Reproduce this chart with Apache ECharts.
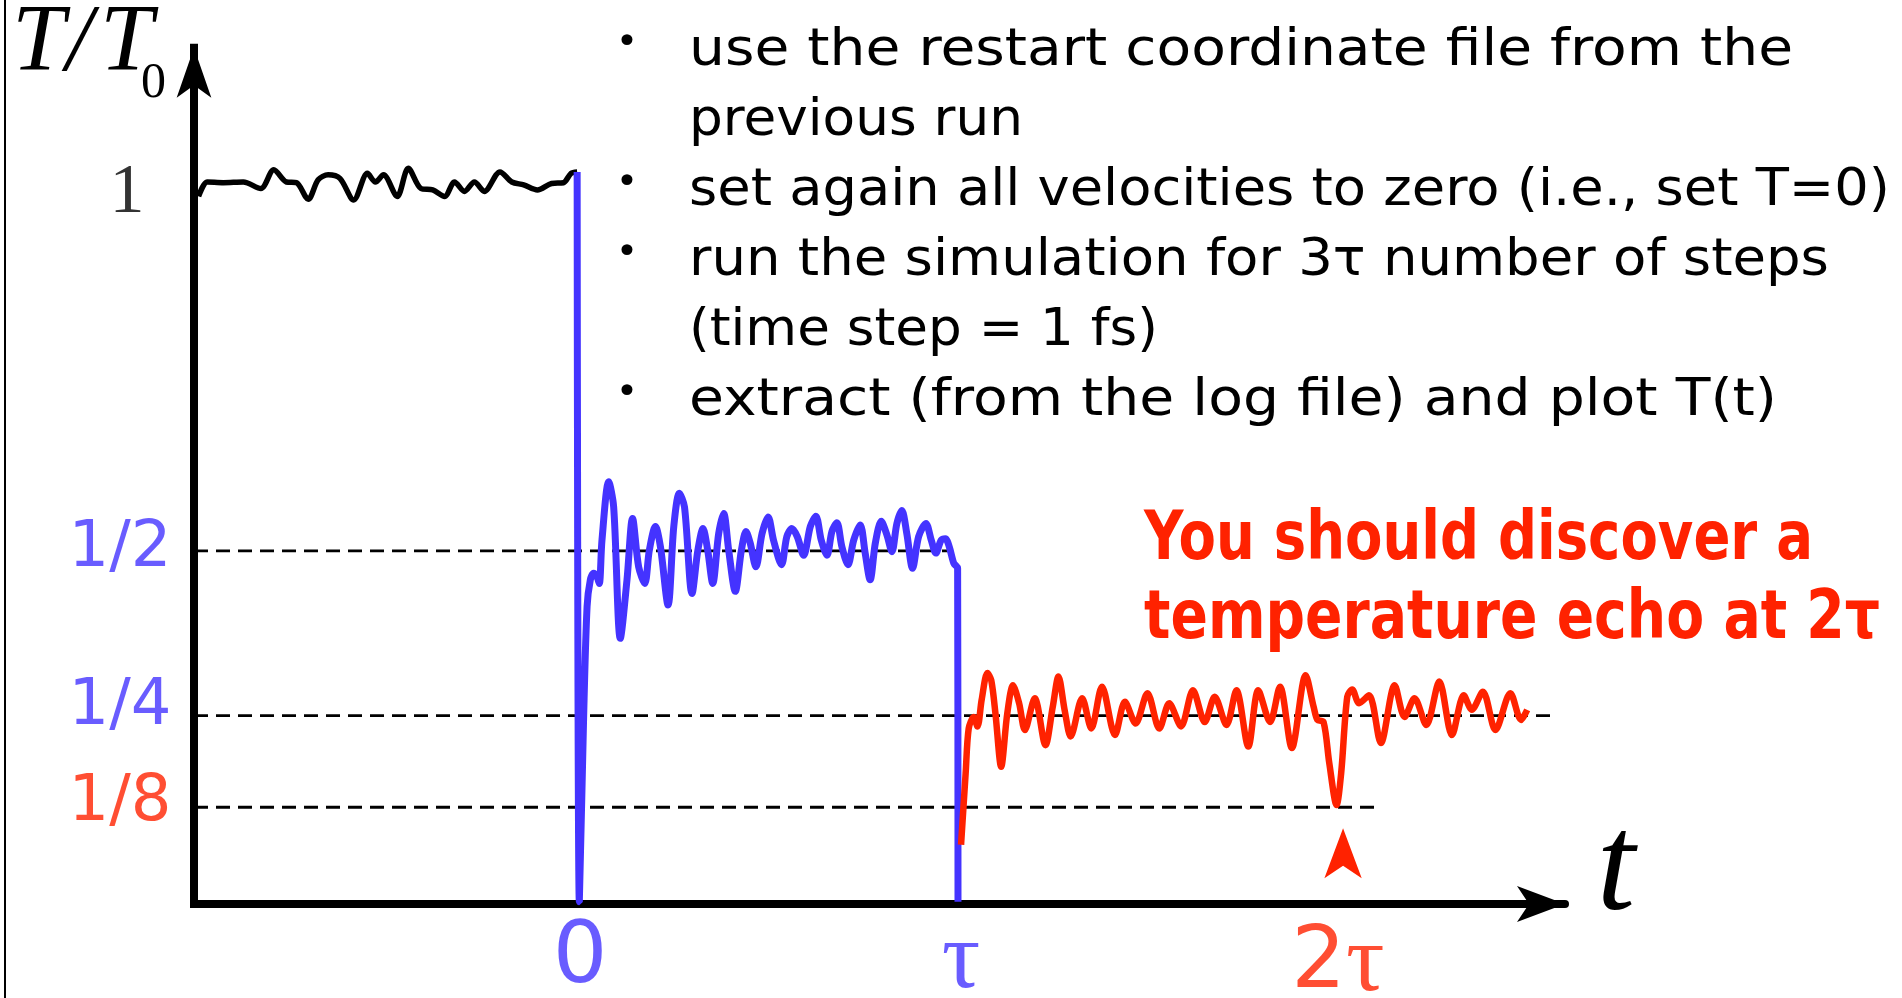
<!DOCTYPE html>
<html><head><meta charset="utf-8">
<script src="https://cdn.jsdelivr.net/npm/echarts@6/dist/echarts.min.js"></script>
<style>html,body{margin:0;padding:0;background:#fff;}#c{width:1902px;height:998px;}</style>
</head><body><div id="c"></div>
<script>
// ---------- data (t in units of tau, T/T0) ----------
const blackRun = [[-0.988,0.980],[-0.965,1.000],[-0.923,0.999],[-0.871,1.000],[-0.825,0.991],[-0.791,1.017],[-0.758,1.000],[-0.732,0.999],[-0.701,0.976],[-0.675,1.003],[-0.649,1.010],[-0.618,1.005],[-0.582,0.975],[-0.546,1.012],[-0.525,1.000],[-0.504,1.010],[-0.468,0.980],[-0.439,1.019],[-0.406,0.991],[-0.375,0.989],[-0.344,0.980],[-0.318,1.000],[-0.292,0.987],[-0.266,1.000],[-0.240,0.987],[-0.199,1.014],[-0.168,1.000],[-0.137,0.996],[-0.101,0.989],[-0.064,0.998],[-0.033,0.999],[-0.013,1.012],[0.003,1.014]];
const blueRun = [[0.003,1.014],[0.0087,0.003],[0.020,0.259],[0.029,0.412],[0.0375,0.449],[0.046,0.458],[0.055,0.453],[0.061,0.444],[0.068,0.504],[0.0855,0.585],[0.0986,0.550],[0.116,0.368],[0.1335,0.449],[0.148,0.534],[0.164,0.467],[0.180,0.444],[0.192,0.490],[0.208,0.523],[0.221,0.495],[0.241,0.414],[0.256,0.523],[0.2705,0.569],[0.284,0.550],[0.3037,0.430],[0.319,0.490],[0.3325,0.520],[0.3447,0.490],[0.358,0.444],[0.3735,0.513],[0.3866,0.541],[0.3997,0.490],[0.417,0.433],[0.433,0.490],[0.445,0.516],[0.456,0.500],[0.471,0.467],[0.487,0.513],[0.503,0.536],[0.517,0.504],[0.538,0.470],[0.552,0.509],[0.565,0.520],[0.579,0.509],[0.596,0.483],[0.6135,0.523],[0.628,0.537],[0.642,0.504],[0.657,0.483],[0.670,0.516],[0.683,0.528],[0.696,0.495],[0.712,0.470],[0.727,0.504],[0.744,0.525],[0.757,0.486],[0.770,0.449],[0.7836,0.500],[0.799,0.530],[0.814,0.511],[0.827,0.488],[0.840,0.527],[0.853,0.545],[0.866,0.513],[0.881,0.465],[0.897,0.509],[0.916,0.527],[0.930,0.504],[0.942,0.486],[0.956,0.504],[0.967,0.506],[0.977,0.495],[0.989,0.472],[0.999,0.465],[1.0,0.003]];
const redRun = [[1.008,0.082],[1.020,0.181],[1.028,0.243],[1.041,0.259],[1.051,0.246],[1.062,0.283],[1.077,0.320],[1.087,0.310],[1.098,0.264],[1.113,0.190],[1.129,0.264],[1.144,0.303],[1.160,0.278],[1.175,0.241],[1.201,0.285],[1.229,0.220],[1.248,0.273],[1.263,0.315],[1.279,0.269],[1.295,0.232],[1.325,0.285],[1.349,0.243],[1.377,0.301],[1.411,0.234],[1.437,0.280],[1.465,0.250],[1.496,0.292],[1.527,0.243],[1.553,0.278],[1.584,0.246],[1.615,0.296],[1.646,0.252],[1.672,0.287],[1.703,0.248],[1.729,0.296],[1.760,0.218],[1.786,0.296],[1.817,0.252],[1.843,0.301],[1.874,0.216],[1.910,0.317],[1.931,0.273],[1.941,0.255],[1.957,0.252],[1.972,0.195],[1.991,0.137],[2.003,0.181],[2.019,0.287],[2.032,0.297],[2.050,0.278],[2.076,0.289],[2.107,0.223],[2.143,0.303],[2.169,0.259],[2.195,0.285],[2.226,0.248],[2.260,0.308],[2.293,0.234],[2.324,0.289],[2.345,0.269],[2.374,0.294],[2.407,0.241],[2.446,0.292],[2.474,0.255],[2.490,0.269]];
const guideLevels = [0.489, 0.261, 0.134];
const guideEnds = [0.974, 2.565, 2.10];
const yTickValues = [1, 0.489, 0.261, 0.134];
const yTickLabels = ['1', '1/2', '1/4', '1/8'];
const xTickValues = [0, 1, 2];
const xTickLabels = ['0', 'τ', '2τ'];
const echoMarker = [2.008, 0.105];
const bulletLines = ['use the restart coordinate file from the', 'previous run', 'set again all velocities to zero (i.e., set T=0)', 'run the simulation for 3τ number of steps', '(time step = 1 fs)', 'extract (from the log file) and plot T(t)'];
const bulletFlags = [true, false, true, true, false, true];
const noteLines = ['You should discover a', 'temperature echo at 2τ'];

// ---------- layout / style ----------
const BLUE = '#4433ff', RED = '#ff2200';
const X_MIN = -1, X_MAX = 2.589, Y_MIN = 0, Y_MAX = 1.186;
const bulletWidths = [1104, 334, 1201, 1140, 469, 1088];
const noteWidths = [669, 736];
const yLabelStyle = [
  {color:'#000', fontFamily:'Liberation Serif', fontSize:70, offset:[-67, 12]},
  {color:BLUE, fontFamily:'DejaVu Sans', fontSize:64, offset:[-74, -2]},
  {color:BLUE, fontFamily:'DejaVu Sans', fontSize:64, offset:[-74, -8]},
  {color:RED, fontFamily:'DejaVu Sans', fontSize:64, offset:[-74, -4]}
];
const xLabelStyle = [
  {fmt:'{d|0}', color:BLUE, offset:[4, 56]},
  {fmt:'{g|τ}', color:BLUE, offset:[3, 58]},
  {fmt:'{d|2}{g|τ}', color:RED, offset:[-2, 61]}
];

const ctx = document.createElement('canvas').getContext('2d');
function fit(text, font, target) { ctx.font = font; return target / ctx.measureText(text).width; }

const graphics = [];
graphics.push({type:'line', shape:{x1:5, y1:0, x2:5, y2:998}, style:{stroke:'#000', lineWidth:2}, silent:true});
const serifI = {fontFamily:'Liberation Serif', fontStyle:'italic', fontSize:95, fill:'#000', textAlign:'left', textVerticalAlign:'middle'};
graphics.push({type:'text', x:12, y:45, style:Object.assign({text:'T'}, serifI)});
graphics.push({type:'text', x:66, y:45, style:Object.assign({text:'/'}, serifI)});
graphics.push({type:'text', x:100, y:45, style:Object.assign({text:'T'}, serifI)});
graphics.push({type:'text', x:141, y:84, style:{text:'0', fontFamily:'Liberation Serif', fontSize:50, fill:'#000', textAlign:'left', textVerticalAlign:'middle'}});
graphics.push({type:'text', x:1616, y:873, style:{text:'t', fontFamily:'Liberation Serif', fontStyle:'italic', fontSize:138, fill:'#000', textAlign:'center', textVerticalAlign:'middle'}});

const BFS = 52;
bulletLines.forEach((line, i) => {
  const base = 69 + 70 * i;
  const sx = fit(line, BFS + 'px "DejaVu Sans"', bulletWidths[i]);
  graphics.push({type:'text', x:689, y:base - 0.346 * BFS, scaleX:sx, style:{text:line, fontFamily:'DejaVu Sans', fontSize:BFS, fill:'#000', textAlign:'left', textVerticalAlign:'middle'}});
  if (bulletFlags[i]) {
    graphics.push({type:'text', x:627, y:base - 25, style:{text:'•', fontFamily:'DejaVu Sans', fontSize:38, fill:'#000', textAlign:'center', textVerticalAlign:'middle'}});
  }
});
const NFS = 68;
noteLines.forEach((line, i) => {
  const base = [565, 644][i];
  const sx = fit(line, 'bold ' + NFS + 'px "DejaVu Sans"', noteWidths[i]);
  graphics.push({type:'text', x:1144, y:base - 0.346 * NFS, scaleX:sx, style:{text:line, fontFamily:'DejaVu Sans', fontWeight:'bold', fontSize:NFS, fill:RED, textAlign:'left', textVerticalAlign:'middle'}});
});

const series = [
  {name:'before', type:'line', data:blackRun, symbol:'none', smooth:0.3, lineStyle:{color:'#000', width:5.5}, z:3},
  {name:'quench1', type:'line', data:blueRun, symbol:'none', smooth:0.3, lineStyle:{color:BLUE, width:7}, z:3},
  {name:'quench2', type:'line', data:redRun, symbol:'none', smooth:0.3, lineStyle:{color:RED, width:6.5}, z:4,
    markPoint:{symbol:'arrow', symbolSize:[28, 50], itemStyle:{color:RED}, label:{show:false}, data:[{coord:echoMarker}]}}
];
guideLevels.forEach((lv, i) => {
  series.push({type:'line', data:[[X_MIN, lv], [guideEnds[i], lv]], symbol:'none', clip:false, silent:true,
    lineStyle:{color:'#000', width:2.8, type:[14, 8]}, z:2});
});
series.push({type:'scatter', symbolSize:1, itemStyle:{color:'transparent'}, silent:true, z:5,
  data: yTickValues.map((v, i) => ({value:[X_MIN, v], label:{show:true, position:'inside', formatter:yTickLabels[i],
    color:yLabelStyle[i].color, fontFamily:yLabelStyle[i].fontFamily, fontSize:yLabelStyle[i].fontSize, offset:yLabelStyle[i].offset}}))
});
series.push({type:'scatter', symbolSize:1, itemStyle:{color:'transparent'}, silent:true, z:5,
  data: xTickValues.map((v, i) => ({value:[v, 0], name:xTickLabels[i], label:{show:true, position:'inside', formatter:xLabelStyle[i].fmt, offset:xLabelStyle[i].offset,
    rich:{d:{color:xLabelStyle[i].color, fontFamily:'DejaVu Sans', fontSize:86}, g:{color:xLabelStyle[i].color, fontFamily:'Liberation Serif', fontSize:96}}}}))
});

const chart = echarts.init(document.getElementById('c'), null, {renderer:'canvas'});
chart.setOption({
  animation:false,
  backgroundColor:'#fff',
  grid:{left:194, top:904 - (Y_MAX - Y_MIN) * 722, width:(X_MAX - X_MIN) * 382, height:(Y_MAX - Y_MIN) * 722, containLabel:false, outerBoundsMode:'none'},
  xAxis:{type:'value', min:X_MIN, max:X_MAX, axisLabel:{show:false}, axisTick:{show:false}, splitLine:{show:false},
    axisLine:{show:true, onZero:false, symbol:['none','arrow'], symbolSize:[27, 48], lineStyle:{color:'#000', width:8}}},
  yAxis:{type:'value', min:Y_MIN, max:Y_MAX, axisLabel:{show:false}, axisTick:{show:false}, splitLine:{show:false},
    axisLine:{show:true, onZero:false, symbol:['none','arrow'], symbolSize:[26, 50], lineStyle:{color:'#000', width:8, cap:'square'}}},
  series: series,
  graphic: graphics
});
</script></body></html>
